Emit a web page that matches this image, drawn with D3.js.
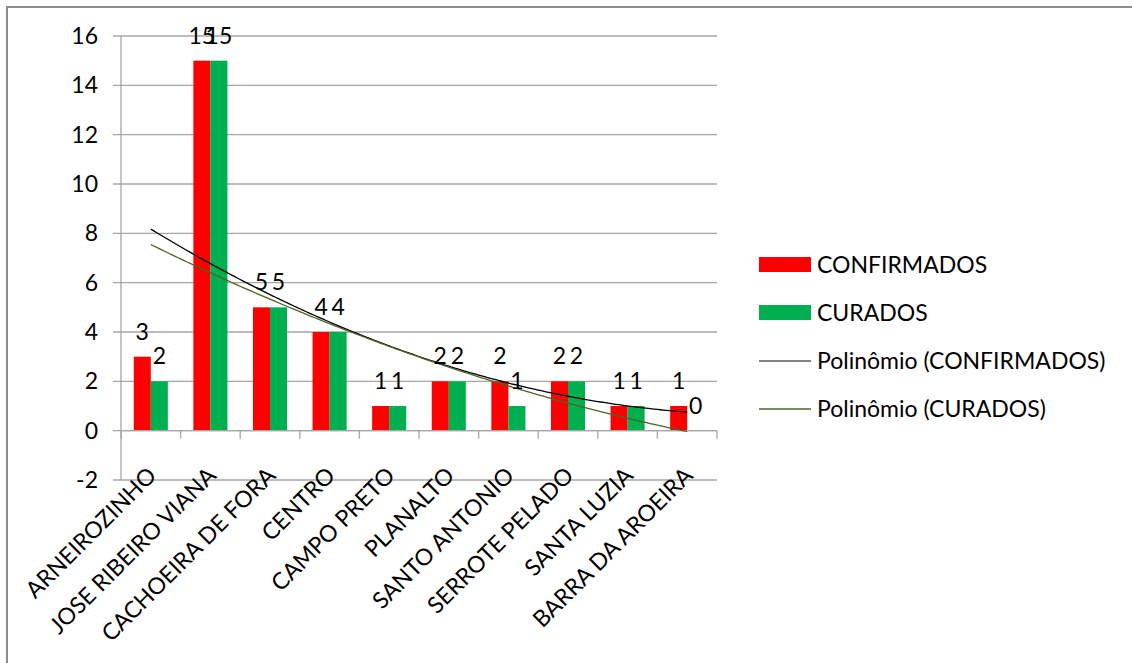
<!DOCTYPE html>
<html>
<head>
<meta charset="utf-8">
<script src="https://cdn.jsdelivr.net/npm/d3@7"></script>
<style>
  body { margin: 0; background: #fff; }
  svg { display: block; font-family: Lato, "Open Sans", sans-serif; }
</style>
</head>
<body>
<svg width="1132" height="663"></svg>
<script>
// bairros e casos
let categories = ["ARNEIROZINHO", "JOSE RIBEIRO VIANA", "CACHOEIRA DE FORA", "CENTRO", "CAMPO PRETO",
  "PLANALTO", "SANTO ANTONIO", "SERROTE PELADO", "SANTA LUZIA", "BARRA DA AROEIRA"];
let confirmados = [3, 15, 5, 4, 1, 2, 2, 2, 1, 1];
let curados = [2, 15, 5, 4, 1, 2, 1, 2, 1, 0];
let seriesNames = ["CONFIRMADOS", "CURADOS"];
let yTicks = [-2, 0, 2, 4, 6, 8, 10, 12, 14, 16];

let colors = {CONFIRMADOS: "#ff0000", CURADOS: "#00b050"};
let trendColors = {CONFIRMADOS: "#000000", CURADOS: "#4f6228"};

let svg = d3.select("svg");
let fontSize = 23;

// moldura (so aparecem topo e esquerda)
svg.append("rect")
  .attr("x", 7).attr("y", 7)
  .attr("width", 1300).attr("height", 800)
  .attr("fill", "none")
  .attr("stroke", "#8c8c8c")
  .attr("stroke-width", 2);

let plotLeft = 121, plotRight = 717, plotTop = 36, plotBottom = 480;

let x = d3.scaleBand().domain(categories).range([plotLeft, plotRight]).padding(0);
let bw = x.bandwidth();
let barW = bw / 3.5;
let y = d3.scaleLinear().domain([-2, 16]).range([plotBottom, plotTop]);

// grade
svg.append("g").selectAll("line")
  .data(yTicks)
  .enter().append("line")
  .attr("x1", plotLeft - 8).attr("x2", plotRight)
  .attr("y1", d => y(d)).attr("y2", d => y(d))
  .attr("stroke", "#a6a6a6")
  .attr("stroke-width", 1.3);

// eixo y
svg.append("line")
  .attr("x1", plotLeft).attr("x2", plotLeft)
  .attr("y1", plotTop).attr("y2", plotBottom)
  .attr("stroke", "#a6a6a6").attr("stroke-width", 1.3);

svg.append("g").selectAll("text")
  .data(yTicks)
  .enter().append("text")
  .attr("x", 98)
  .attr("y", d => y(d))
  .attr("dy", "0.35em")
  .attr("text-anchor", "end")
  .attr("font-size", fontSize)
  .attr("fill", "#000")
  .text(d => d);

// barras
let series = [
  {name: "CONFIRMADOS", values: confirmados},
  {name: "CURADOS", values: curados}
];

series.forEach(function(s, si){
  let g = svg.append("g");
  g.selectAll("rect")
    .data(s.values)
    .enter().append("rect")
    .attr("x", (d, i) => x(categories[i]) + bw / 2 - barW + si * barW)
    .attr("width", barW)
    .attr("y", d => Math.min(y(d), y(0)))
    .attr("height", d => Math.abs(y(0) - y(d)))
    .attr("fill", colors[s.name]);
});

// eixo x na linha do zero
svg.append("line")
  .attr("x1", plotLeft).attr("x2", plotRight)
  .attr("y1", y(0)).attr("y2", y(0))
  .attr("stroke", "#a6a6a6").attr("stroke-width", 1.3);

svg.append("g").selectAll("line")
  .data(d3.range(categories.length + 1))
  .enter().append("line")
  .attr("x1", i => plotLeft + i * bw).attr("x2", i => plotLeft + i * bw)
  .attr("y1", y(0)).attr("y2", y(0) + 8)
  .attr("stroke", "#a6a6a6").attr("stroke-width", 1.3);

// linhas de tendencia polinomial (ordem 2)
function polyFit(vals){
  let S = [0, 0, 0, 0, 0], T = [0, 0, 0];
  vals.forEach(function(v, i){
    let t = i + 1;
    for (let k = 0; k < 5; k++) S[k] += Math.pow(t, k);
    for (let k = 0; k < 3; k++) T[k] += v * Math.pow(t, k);
  });
  let A = [[S[0], S[1], S[2], T[0]], [S[1], S[2], S[3], T[1]], [S[2], S[3], S[4], T[2]]];
  for (let c = 0; c < 3; c++) {
    for (let r = c + 1; r < 3; r++) {
      let f = A[r][c] / A[c][c];
      for (let k = c; k < 4; k++) A[r][k] -= f * A[c][k];
    }
  }
  let coef = [0, 0, 0];
  for (let r = 2; r >= 0; r--) {
    let s = A[r][3];
    for (let k = r + 1; k < 3; k++) s -= A[r][k] * coef[k];
    coef[r] = s / A[r][r];
  }
  return coef;
}

let xt = d3.scaleLinear().domain([1, categories.length])
  .range([x(categories[0]) + bw / 2, x(categories[categories.length - 1]) + bw / 2]);

series.forEach(function(s){
  let c = polyFit(s.values);
  let pts = d3.range(1, categories.length + 0.001, 0.05);
  let line = d3.line()
    .x(t => xt(t))
    .y(t => y(c[0] + c[1] * t + c[2] * t * t));
  svg.append("path")
    .datum(pts)
    .attr("d", line)
    .attr("fill", "none")
    .attr("stroke", trendColors[s.name])
    .attr("stroke-width", 1.3);
});

// rotulos de dados
series.forEach(function(s, si){
  svg.append("g").selectAll("text")
    .data(s.values)
    .enter().append("text")
    .attr("x", (d, i) => x(categories[i]) + bw / 2 - barW / 2 + si * barW)
    .attr("y", d => y(Math.max(d, 0)) - 17)
    .attr("text-anchor", "middle")
    .attr("font-size", fontSize)
    .attr("fill", "#000")
    .text(d => d);
});

// rotulos das categorias
svg.append("g").selectAll("text")
  .data(categories)
  .enter().append("text")
  .attr("transform", d => "translate(" + (x(d) + bw / 2 + 7) + "," + 477 + ") rotate(-45)")
  .attr("text-anchor", "end")
  .attr("font-size", fontSize)
  .attr("fill", "#000")
  .text(d => d);

// legenda
let legend = svg.append("g");
let legItems = [
  {label: "CONFIRMADOS", type: "rect", color: colors.CONFIRMADOS},
  {label: "CURADOS", type: "rect", color: colors.CURADOS},
  {label: "Polinômio (CONFIRMADOS)", type: "line", color: "#595959"},
  {label: "Polinômio (CURADOS)", type: "line", color: trendColors.CURADOS}
];
legItems.forEach(function(it, i){
  let cy = 265 + i * 48;
  if (it.type === "rect") {
    legend.append("rect")
      .attr("x", 759).attr("y", cy - 8)
      .attr("width", 52).attr("height", 15)
      .attr("fill", it.color);
  } else {
    legend.append("line")
      .attr("x1", 759).attr("x2", 811)
      .attr("y1", cy).attr("y2", cy)
      .attr("stroke", it.color).attr("stroke-width", 1.3);
  }
  legend.append("text")
    .attr("x", 817).attr("y", cy)
    .attr("dy", "0.35em")
    .attr("font-size", fontSize)
    .attr("fill", "#000")
    .text(it.label);
});
</script>
</body>
</html>
